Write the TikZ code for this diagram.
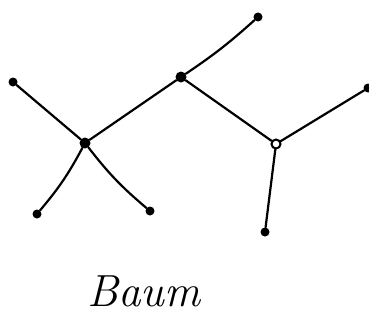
\documentclass[tikz,border=0pt]{standalone}
\usepackage{tikz}

\begin{document}
\begin{tikzpicture}[x=1pt,y=-1pt,
  dot/.style={circle,fill=black,inner sep=0pt,minimum size=#1},
  dot/.default=9pt,
  ring/.style={circle,draw=black,line width=2pt,fill=white,inner sep=0pt,minimum size=9pt},
  edge/.style={line width=2.2pt,line cap=round}]
\useasboundingbox (0,0) rectangle (369,321);
% inner nodes
\node[dot=11pt] (a) at (85,143) {};
\node[dot=11pt] (b) at (181,77) {};
\node[ring] (c) at (276,144) {};
% leaves
\node[dot] (la) at (13,82) {};
\node[dot] (lb) at (37,214) {};
\node[dot] (lc) at (150,211) {};
\node[dot] (ld) at (258,17) {};
\node[dot] (le) at (368,88) {};
\node[dot] (lf) at (265,232) {};
\foreach \u/\v/\b in %
{a/la/0,a/lb/6,a/lc/-6,a/b/0,b/ld/-4,b/c/0,c/le/0,c/lf/0} {
   \draw[edge] (\u) to[bend left=\b] (\v);
}
\node (baum) at (144,291) {\fontsize{45}{50}\selectfont\itshape Baum};
\end{tikzpicture}
\end{document}
